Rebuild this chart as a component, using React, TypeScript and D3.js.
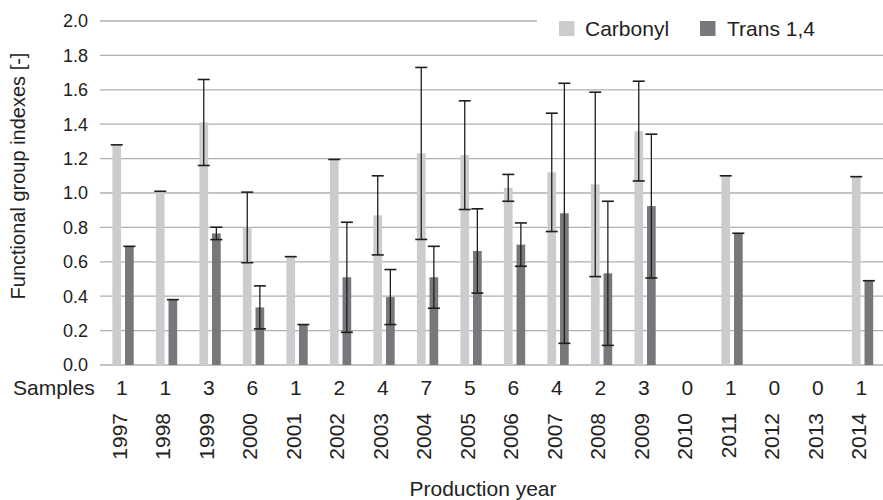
import React from "react";
import * as d3 from "d3";

const years = ["1997","1998","1999","2000","2001","2002","2003","2004","2005","2006","2007","2008","2009","2010","2011","2012","2013","2014"];
const samples = [1,1,3,6,1,2,4,7,5,6,4,2,3,0,1,0,0,1];
const carbonyl: (number|null)[] = [1.28,1.01,1.41,0.80,0.63,1.195,0.87,1.23,1.22,1.03,1.12,1.05,1.36,null,1.10,null,null,1.095];
const carbonylErr: (number|null)[] = [0,0,0.25,0.205,0,0,0.23,0.50,0.316,0.078,0.344,0.536,0.29,null,0,null,null,0];
const trans: (number|null)[] = [0.69,0.38,0.765,0.335,0.235,0.51,0.395,0.51,0.663,0.70,0.882,0.533,0.924,null,0.766,null,null,0.49];
const transErr: (number|null)[] = [0,0,0.036,0.125,0,0.32,0.16,0.18,0.245,0.126,0.756,0.419,0.418,null,0,null,null,0];
const yTicks = [0,0.2,0.4,0.6,0.8,1.0,1.2,1.4,1.6,1.8,2.0];

const FONT = "'Liberation Sans', Arial, Helvetica, sans-serif";
const TXT = "#222";

export default function App() {
  const W = 883, H = 500;
  const x = d3.scaleBand<string>().domain(years).range([100, 883]).padding(0);
  const y = d3.scaleLinear().domain([0, 2]).range([365, 21]);
  const bw = x.bandwidth();
  const cOff = 0.285 * bw, tOff = 0.575 * bw, barW = 8.7;
  const capW = 12;

  const series = [
    { vals: carbonyl, errs: carbonylErr, off: cOff, color: "#cbcccd" },
    { vals: trans, errs: transErr, off: tOff, color: "#77787b" },
  ];

  return (
    <svg width={W} height={H} style={{ display: "block", position: "absolute", left: 0, top: 0 }} fontFamily={FONT}>
      <rect width={W} height={H} fill="#fff" />
      {yTicks.map((t) => (
        <g key={t}>
          <line x1={100} x2={t === 2 ? 537 : 883} y1={y(t)} y2={y(t)} stroke="#b0b0b0" strokeWidth={1.3} />
          <text x={88} y={y(t)} dy="0.35em" textAnchor="end" fontSize={18} fill={TXT}>{t.toFixed(1)}</text>
        </g>
      ))}
      {series.map((s, si) => (
        <g key={si}>
          {years.map((yr, i) => {
            const v = s.vals[i];
            if (v == null) return null;
            const x0 = (x(yr) as number) + s.off;
            return <rect key={yr} x={x0} y={y(v)} width={barW} height={y(0) - y(v)} fill={s.color} />;
          })}
        </g>
      ))}
      {series.map((s, si) => (
        <g key={"e" + si} stroke="#1e1e1e">
          {years.map((yr, i) => {
            const v = s.vals[i];
            const e = s.errs[i];
            if (v == null || e == null) return null;
            const cx = (x(yr) as number) + s.off + barW / 2;
            const hi = y(v + e), lo = y(v - e);
            return (
              <g key={yr}>
                {e > 0 && <line x1={cx} x2={cx} y1={hi} y2={lo} strokeWidth={1.3} />}
                <line x1={cx - capW / 2} x2={cx + capW / 2} y1={hi} y2={hi} strokeWidth={1.6} />
                {e > 0 && <line x1={cx - capW / 2} x2={cx + capW / 2} y1={lo} y2={lo} strokeWidth={1.6} />}
              </g>
            );
          })}
        </g>
      ))}
      {/* legend */}
      <rect x={559} y={21} width={15.5} height={15} fill="#cbcccd" />
      <text x={585} y={35.5} fontSize={21} fill={TXT}>Carbonyl</text>
      <rect x={700} y={21} width={15.5} height={15} fill="#77787b" />
      <text x={727} y={35.5} fontSize={21} fill={TXT}>Trans 1,4</text>
      {/* samples row */}
      <text x={13} y={395} fontSize={21} fill={TXT}>Samples</text>
      {years.map((yr, i) => (
        <text key={yr} x={(x(yr) as number) + bw / 2} y={395} textAnchor="middle" fontSize={21} fill={TXT}>{samples[i]}</text>
      ))}
      {years.map((yr) => (
        <text key={"y" + yr} transform={`translate(${(x(yr) as number) + bw / 2 + 5},413) rotate(-90)`} textAnchor="end" fontSize={21} fill={TXT}>{yr}</text>
      ))}
      <text x={483} y={496} textAnchor="middle" fontSize={21} fill={TXT}>Production year</text>
      <text transform="translate(25,176) rotate(-90)" textAnchor="middle" fontSize={20} fill={TXT}>Functional group indexes [-]</text>
    </svg>
  );
}
